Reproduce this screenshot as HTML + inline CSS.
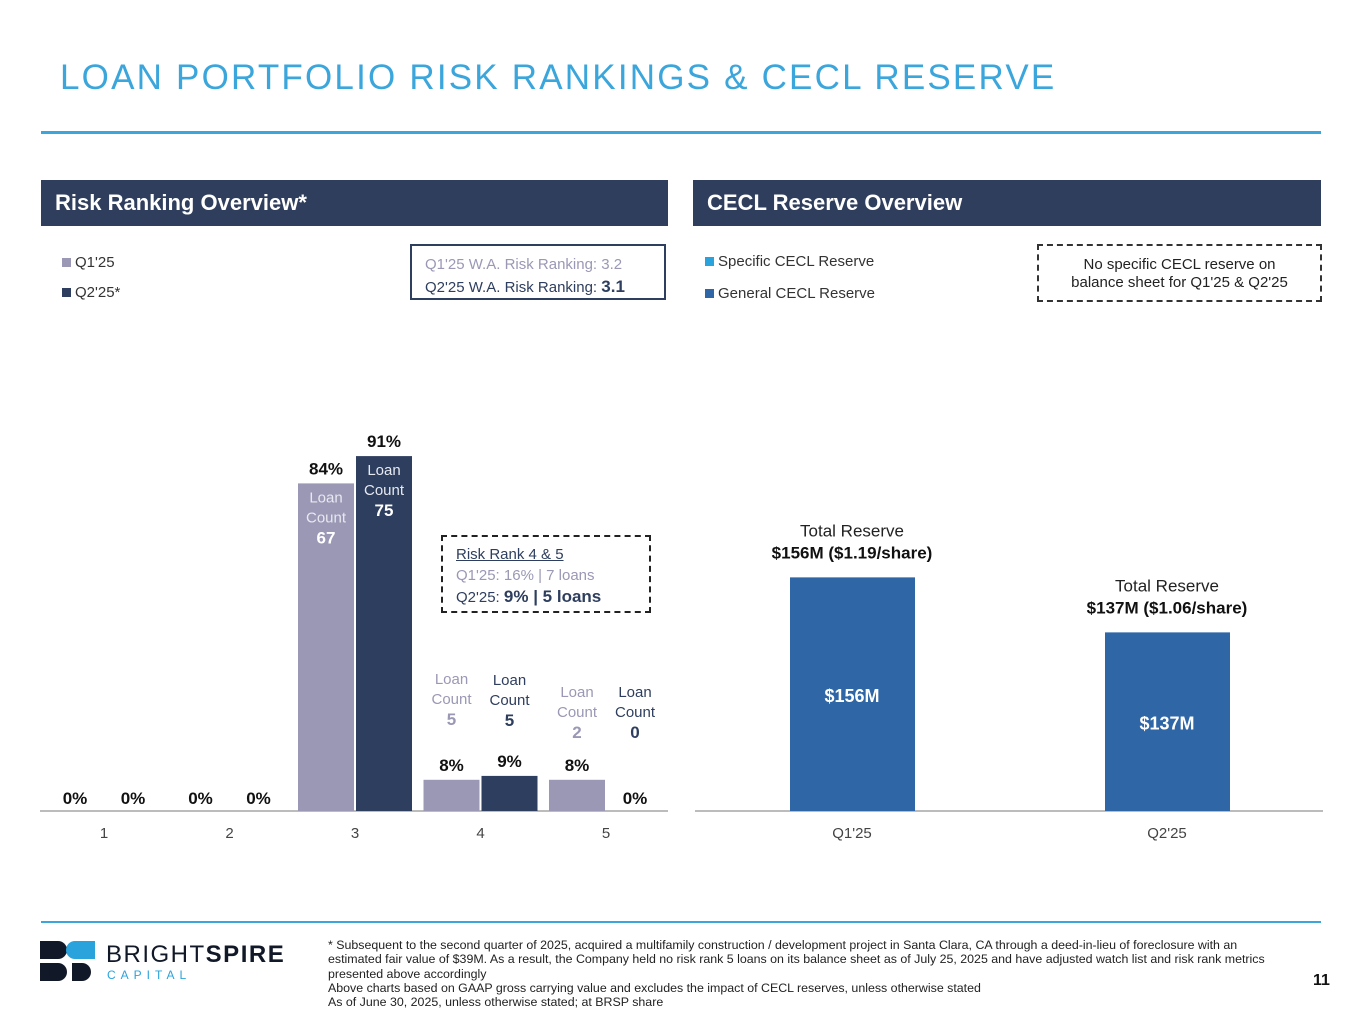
<!DOCTYPE html>
<html><head><meta charset="utf-8">
<style>
body{margin:0;width:1365px;height:1024px;background:#fff;position:relative;overflow:hidden;font-family:"Liberation Sans",sans-serif;}
.abs{position:absolute;}
.hdr{position:absolute;top:180px;height:46px;background:#2f3e5c;color:#fff;font-weight:bold;font-size:22px;line-height:46px;padding-left:14px;box-sizing:border-box;}
.leg{position:absolute;font-size:15px;color:#333;}
.sw{display:inline-block;width:9px;height:9px;margin-right:4px;}
svg text{font-family:"Liberation Sans",sans-serif;}
</style></head><body>
<div class="abs" style="left:60px;top:58px;font-size:35px;letter-spacing:2.2px;color:#3ba6dc;">LOAN PORTFOLIO RISK RANKINGS &amp; CECL RESERVE</div>
<div class="abs" style="left:41px;top:131px;width:1280px;height:3px;background:#3ba6dc;"></div>

<div class="hdr" style="left:41px;width:627px;">Risk Ranking Overview*</div>
<div class="hdr" style="left:693px;width:628px;">CECL Reserve Overview</div>

<div class="leg" style="left:62px;top:254px;"><span class="sw" style="background:#9a98b5"></span>Q1'25</div>
<div class="leg" style="left:62px;top:284px;"><span class="sw" style="background:#2e3e5e"></span>Q2'25*</div>
<div class="abs" style="left:410px;top:244px;width:256px;height:56px;border:2px solid #2e3e5e;box-sizing:border-box;font-size:15px;padding:8px 0 0 13px;line-height:22px;">
<span style="color:#9a98b5">Q1'25 W.A. Risk Ranking: 3.2</span><br><span style="color:#2e3e5e">Q2'25 W.A. Risk Ranking: <b style="font-size:17px">3.1</b></span></div>

<div class="leg" style="left:705px;top:253px;"><span class="sw" style="background:#2aa3dc"></span>Specific CECL Reserve</div>
<div class="leg" style="left:705px;top:285px;"><span class="sw" style="background:#2e66a6"></span>General CECL Reserve</div>
<div class="abs" style="left:1037px;top:244px;width:285px;height:58px;border:2px dashed #333;box-sizing:border-box;font-size:15px;text-align:center;line-height:18px;padding-top:10px;color:#222;">No specific CECL reserve on<br>balance sheet for Q1'25 &amp; Q2'25</div>

<div class="abs" style="left:441px;top:535px;width:210px;height:78px;border:2px dashed #222;box-sizing:border-box;font-size:15px;padding:7px 0 0 13px;line-height:21px;">
<span style="text-decoration:underline;color:#2e3e5e">Risk Rank 4 &amp; 5</span><br><span style="color:#9a98b5">Q1'25: 16% | 7 loans</span><br><span style="color:#2e3e5e">Q2'25: <b style="font-size:17px">9% | 5 loans</b></span></div>

<svg id="chart" class="abs" style="left:0;top:0" width="1365" height="1024"></svg>

<div class="abs" style="left:41px;top:921px;width:1280px;height:2px;background:#3ba6dc;"></div>
<div class="abs" style="left:40px;top:941px;">
<svg width="60" height="42"><rect x="0" y="0" width="18" height="18" fill="#111827"/><circle cx="18" cy="9" r="9" fill="#111827"/><rect x="35" y="0" width="20" height="18" fill="#2aa3dc"/><circle cx="35" cy="9" r="9" fill="#2aa3dc"/><rect x="0" y="22" width="18" height="18" fill="#111827"/><circle cx="18" cy="31" r="9" fill="#111827"/><rect x="32" y="22" width="10" height="18" fill="#111827"/><circle cx="42" cy="31" r="9" fill="#111827"/></svg></div>
<div class="abs" style="left:106px;top:941px;font-size:24px;letter-spacing:1.5px;color:#111827;">BRIGHT<b>SPIRE</b></div>
<div class="abs" style="left:107px;top:968px;font-size:12px;letter-spacing:5px;color:#2aa3dc;">CAPITAL</div>
<div class="abs" style="left:328px;top:938px;width:965px;font-size:12.4px;line-height:14.3px;color:#222;">* Subsequent to the second quarter of 2025, acquired a multifamily construction / development project in Santa Clara, CA through a deed-in-lieu of foreclosure with an estimated fair value of $39M. As a result, the Company held no risk rank 5 loans on its balance sheet as of July 25, 2025 and have adjusted watch list and risk rank metrics presented above accordingly<br>Above charts based on GAAP gross carrying value and excludes the impact of CECL reserves, unless otherwise stated<br>As of June 30, 2025, unless otherwise stated; at BRSP share</div>
<div class="abs" style="left:1313px;top:972px;font-size:16px;font-weight:bold;color:#111;">11</div>

<script>
const riskCategories = ["1","2","3","4","5"];
const q1Values = [0,0,84,8,8];
const q2Values = [0,0,91,9,0];
const q1Counts = [null,null,67,5,2];
const q2Counts = [null,null,75,5,0];
const ceclCategories = ["Q1'25","Q2'25"];
const ceclValues = [156,137];
const ceclShare = ["1.19","1.06"];

const svg = document.getElementById('chart');
const NS = 'http://www.w3.org/2000/svg';
function mk(tag, attrs, txt){const e=document.createElementNS(NS,tag);for(const k in attrs)e.setAttribute(k,attrs[k]);if(txt!=null)e.textContent=txt;svg.appendChild(e);return e;}

const base = 811;
const xRisk = i => 104 + i*125.5;
const yRisk = v => base - v*3.9;
let e = mk('line',{x1:40,x2:668,y1:base,y2:base,stroke:'#a6a6a6','stroke-width':1.5});
 
riskCategories.forEach((c,i)=>{
  const cx = xRisk(i);
  let t = mk('text',{x:cx,y:838,'text-anchor':'middle','font-size':15,fill:'#444'},c);
   
  [[q1Values,q1Counts,cx-57,'#9a98b5','#9a98b5'],[q2Values,q2Counts,cx+1,'#2e3e5e','#2e3e5e']].forEach(([vals,cnts,x,col,tc],s)=>{
    const v = vals[i], top = yRisk(v), mid = x+28;
    if(v>0){
      const r = mk('rect',{x:x,y:top,width:56,height:base-top,fill:col});
      
      
    }
    const lbl = mk('text',{x:mid,y:(v>0?top-9:base-7),'text-anchor':'middle','font-size':17,'font-weight':'bold',fill:'#111'},v+'%');
     
    const n = cnts[i];
    if(n!=null){
      let ys, fill;
      if(v>30){ys=top+19; fill = s? '#e6e9f0' : '#e8e8f0';}
      else { ys = (i==4)? 697 : 684; if(i==3 && s) ys=685; fill=tc; }
      const g1 = mk('text',{x:mid,y:ys,'text-anchor':'middle','font-size':15,fill:fill},'Loan');
      const g2 = mk('text',{x:mid,y:ys+20,'text-anchor':'middle','font-size':15,fill:fill},'Count');
      const g3 = mk('text',{x:mid,y:ys+41,'text-anchor':'middle','font-size':17,'font-weight':'bold',fill: v>30?'#fff':fill},String(n));
      [g1,g2,g3].forEach(g=>{});
    }
  });
});

const xC = i => 852 + i*315;
const yC = v => base - (v-75.3)*2.895;
e = mk('line',{x1:695,x2:1323,y1:base,y2:base,stroke:'#a6a6a6','stroke-width':1.5});
 
ceclCategories.forEach((c,i)=>{
  const cx = xC(i), top = yC(ceclValues[i]);
  const r = mk('rect',{x:cx-62,y:top,width:125,height:base-top,fill:'#2e66a6'});
   
  const v = mk('text',{x:cx,y:top+(base-top)/2+8,'text-anchor':'middle','font-size':18,'font-weight':'bold',fill:'#fff'},'$'+ceclValues[i]+'M');
   
  const a = mk('text',{x:cx,y:top-41,'text-anchor':'middle','font-size':17,fill:'#222'},'Total Reserve');
   
  const b = mk('text',{x:cx,y:top-19,'text-anchor':'middle','font-size':17,'font-weight':'bold',fill:'#111'},'$'+ceclValues[i]+'M ($'+ceclShare[i]+'/share)');
   
  const t = mk('text',{x:cx,y:838,'text-anchor':'middle','font-size':15,fill:'#444'},c);
   
});
</script>
</body></html>
